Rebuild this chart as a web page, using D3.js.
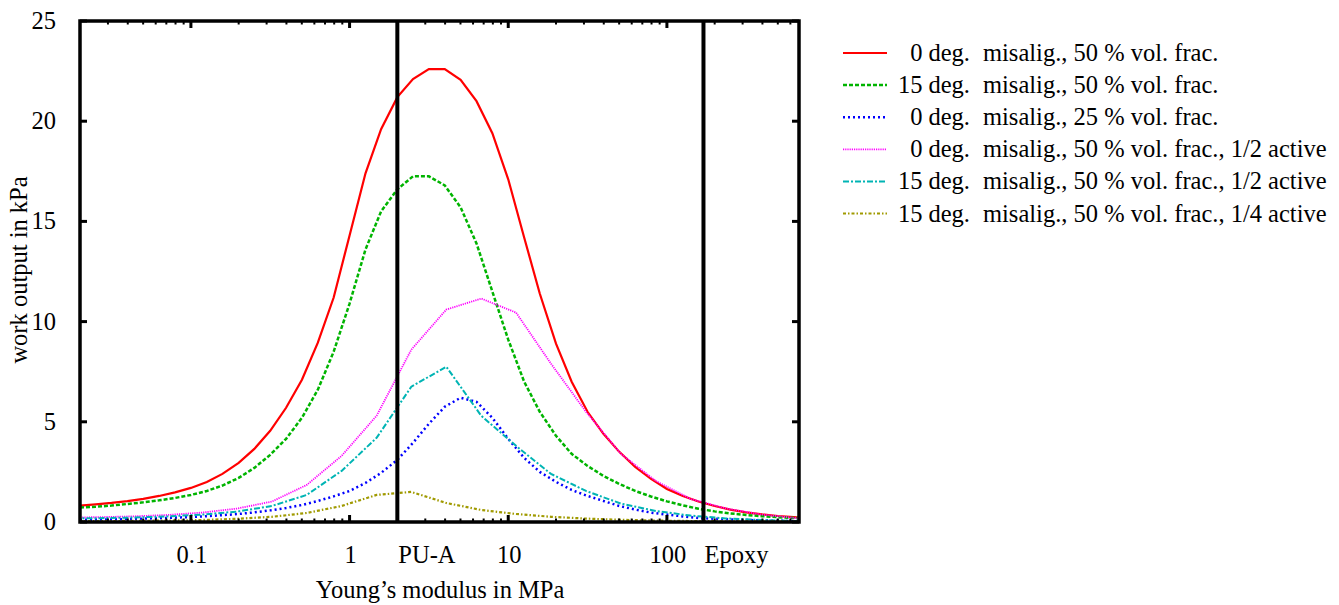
<!DOCTYPE html>
<html><head><meta charset="utf-8">
<script src="https://cdn.jsdelivr.net/npm/d3@7"></script>
<style>body{margin:0;background:#fff}svg{display:block}text{font-family:"Liberation Serif","Times New Roman",serif;fill:#000}</style>
</head><body><svg id="c" width="1339" height="605"></svg>
<script>
// fine modulus grid (MPa)
const modulusFine = [0.02,0.0251,0.0316,0.0398,0.0501,0.0631,0.0794,0.1,0.126,0.158,0.2,0.251,0.316,0.398,0.501,0.631,0.794,1,1.26,1.58,2,2.51,3.16,3.98,5.01,6.31,7.94,10,12.6,15.8,20,25.1,31.6,39.8,50.1,63.1,79.4,100,126,158,200,251,316,398,501,631,794];
const red0_50 = [0.82,0.88,0.95,1.04,1.15,1.3,1.48,1.7,2.0,2.4,2.95,3.65,4.55,5.7,7.1,8.95,11.2,14.3,17.4,19.6,21.2,22.1,22.6,22.6,22.06,21.0,19.4,17.1,14.2,11.4,8.9,7.0,5.5,4.4,3.5,2.75,2.15,1.65,1.3,1.02,0.8,0.62,0.48,0.38,0.3,0.24,0.19];
const green15_50 = [0.72,0.76,0.82,0.9,0.98,1.08,1.2,1.35,1.55,1.82,2.2,2.7,3.35,4.15,5.2,6.6,8.5,10.9,13.6,15.5,16.6,17.25,17.25,16.8,15.7,13.9,11.5,9.1,7.0,5.5,4.3,3.4,2.8,2.3,1.9,1.55,1.27,1.03,0.83,0.66,0.53,0.43,0.35,0.29,0.24,0.2,0.17];
const blue0_25 = [0.11,0.12,0.13,0.15,0.17,0.19,0.22,0.25,0.29,0.34,0.4,0.48,0.58,0.7,0.85,1.05,1.28,1.55,1.95,2.45,3.1,3.95,4.9,5.75,6.2,6.0,5.2,4.15,3.2,2.5,2.0,1.6,1.3,1.05,0.8,0.62,0.47,0.37,0.28,0.2,0.16,0.13,0.1,0.08,0.06,0.05,0.04];
// coarse modulus grid (MPa)
const modulusCoarse = [0.0155,0.0257,0.0427,0.0708,0.118,0.195,0.324,0.537,0.891,1.48,2.45,4.07,6.76,11.2,18.6,30.9,51.3,85.1,141,234,389,646,1072];
const magenta0_50_half = [0.22,0.24,0.28,0.35,0.47,0.67,1.02,1.85,3.3,5.3,8.6,10.6,11.15,10.45,7.9,5.5,3.4,2.05,1.15,0.68,0.38,0.2,0.1];
const cyan15_50_half = [0.17,0.19,0.22,0.28,0.37,0.52,0.8,1.35,2.55,4.2,6.75,7.75,5.3,3.8,2.4,1.55,0.92,0.55,0.32,0.18,0.1,0.05,0.03];
const olive15_50_quarter = [0.04,0.045,0.055,0.07,0.1,0.16,0.26,0.45,0.8,1.35,1.5,0.95,0.6,0.4,0.26,0.17,0.11,0.07,0.05,0.035,0.025,0.02,0.015];

const xTicks = [0.1,1,10,100];
const xTickLabels = ["0.1","1","10","100"];
const yTicks = [0,5,10,15,20,25];
const markers = [{name:"PU-A", E:2},{name:"Epoxy", E:170}];

const seriesNames = ["0 deg.","15 deg.","0 deg.","0 deg.","15 deg.","15 deg."];
const seriesRest = ["misalig., 50 % vol. frac.","misalig., 50 % vol. frac.","misalig., 25 % vol. frac.","misalig., 50 % vol. frac., 1/2 active","misalig., 50 % vol. frac., 1/2 active","misalig., 50 % vol. frac., 1/4 active"];

const series = [
  {x:modulusFine, y:red0_50, color:"#ff0000", w:2.2, dash:null},
  {x:modulusFine, y:green15_50, color:"#00b400", w:2.5, dash:"4,2"},
  {x:modulusFine, y:blue0_25, color:"#0000ff", w:2.5, dash:"2,3"},
  {x:modulusCoarse, y:magenta0_50_half, color:"#ff00ff", w:1.8, dash:"1.2,1"},
  {x:modulusCoarse, y:cyan15_50_half, color:"#00b4b4", w:2, dash:"6,2,2,2"},
  {x:modulusCoarse, y:olive15_50_quarter, color:"#a09a00", w:2.2, dash:"3,2,1.5,2"}
];

const L=80, R=799, T=21, B=522;
const FS = 24.5;
const svg = d3.select("#c");
const x = d3.scaleLog().domain([0.02,680]).range([L,R]);
const y = d3.scaleLinear().domain([0,25]).range([B,T]);

svg.append("defs").append("clipPath").attr("id","clip").append("rect")
  .attr("x",L).attr("y",T-5).attr("width",R-L).attr("height",B-T+5);

const g = svg.append("g").attr("clip-path","url(#clip)");
const line = d3.line().x(d=>x(d[0])).y(d=>y(d[1]));
series.forEach(s=>{
  g.append("path").datum(s.x.map((v,i)=>[v,s.y[i]]))
   .attr("d",line).attr("fill","none").attr("stroke",s.color)
   .attr("stroke-width",s.w).attr("stroke-dasharray",s.dash);
});

// ticks
const minor = [];
[0.01,0.1,1,10,100].forEach(d=>{for(let k=2;k<=9;k++){const v=d*k; if(v>0.02&&v<680) minor.push(v);}});
minor.forEach(v=>{
  svg.append("line").attr("x1",x(v)).attr("x2",x(v)).attr("y1",B).attr("y2",B-3.5).attr("stroke","#000").attr("stroke-width",2);
  svg.append("line").attr("x1",x(v)).attr("x2",x(v)).attr("y1",T).attr("y2",T+3.5).attr("stroke","#000").attr("stroke-width",2);
});
xTicks.forEach((v,i)=>{
  svg.append("line").attr("x1",x(v)).attr("x2",x(v)).attr("y1",B).attr("y2",B-7).attr("stroke","#000").attr("stroke-width",3);
  svg.append("line").attr("x1",x(v)).attr("x2",x(v)).attr("y1",T).attr("y2",T+7).attr("stroke","#000").attr("stroke-width",3);
  svg.append("text").attr("x",x(v)+1).attr("y",563).attr("text-anchor","middle").attr("font-size",FS).text(xTickLabels[i]);
});
yTicks.forEach(v=>{
  svg.append("line").attr("x1",L).attr("x2",L+7).attr("y1",y(v)).attr("y2",y(v)).attr("stroke","#000").attr("stroke-width",3);
  svg.append("line").attr("x1",R).attr("x2",R-7).attr("y1",y(v)).attr("y2",y(v)).attr("stroke","#000").attr("stroke-width",3);
  svg.append("text").attr("x",56).attr("y",y(v)+8).attr("text-anchor","end").attr("font-size",FS).text(v);
});

// markers
markers.forEach(m=>{
  svg.append("line").attr("x1",x(m.E)).attr("x2",x(m.E)).attr("y1",T).attr("y2",B).attr("stroke","#000").attr("stroke-width",4);
  svg.append("text").attr("x",x(m.E)+1).attr("y",563).attr("font-size",FS).text(m.name);
});

// frame
svg.append("rect").attr("x",L).attr("y",T).attr("width",R-L).attr("height",B-T)
  .attr("fill","none").attr("stroke","#000").attr("stroke-width",3.5);

// axis titles
svg.append("text").attr("x",440).attr("y",598).attr("text-anchor","middle").attr("font-size",FS).text("Young\u2019s modulus in MPa");
svg.append("text").attr("transform","translate(27,270) rotate(-90)").attr("text-anchor","middle").attr("font-size",FS).text("work output in kPa");

// legend
const lg = svg.append("g");
series.forEach((s,i)=>{
  const yy = 53 + i*32.1;
  lg.append("line").attr("x1",843).attr("x2",887).attr("y1",yy).attr("y2",yy)
    .attr("stroke",s.color).attr("stroke-width",s.w).attr("stroke-dasharray",s.dash);
  lg.append("text").attr("x",970).attr("y",yy+8).attr("text-anchor","end").attr("font-size",FS).text(seriesNames[i]);
  lg.append("text").attr("x",983).attr("y",yy+8).attr("font-size",FS).text(seriesRest[i]);
});
</script></body></html>
